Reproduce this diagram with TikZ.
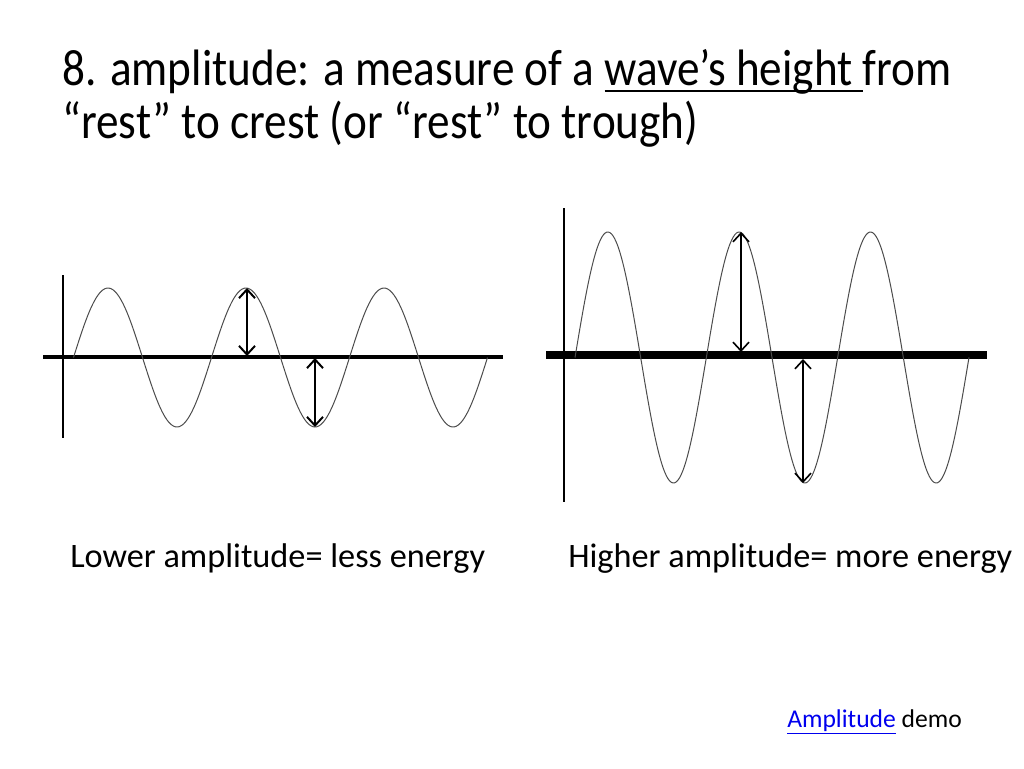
\documentclass[tikz,border=0pt]{standalone}
\usepackage{fontspec}
\setmainfont{Carlito}
\usetikzlibrary{arrows.meta}
\definecolor{linkblue}{RGB}{0,0,238}
\newcommand\waveul[1]{\setbox0\hbox{#1}\rlap{\rule[-0.14em]{\wd0}{0.045em}}\box0}
\tikzset{
  wave/.style={black!70, line width=0.75pt, smooth},
  amp/.style={{Straight Barb[length=6.5pt,width=12pt]}-{Straight Barb[length=6.5pt,width=12pt]}},
  txt/.style={anchor=base west, inner sep=0pt}
}
\begin{document}
\begin{tikzpicture}[x=0.75pt,y=-0.75pt]
\useasboundingbox (0,0) rectangle (1024,768);

% title
\node[txt] (title1) at (62,85) {\fontsize{38.4}{46}\selectfont\scalebox{0.883}[1]{8. amplitude: a measure of a \waveul{wave’s height\ }from}};
\node[txt] (title2) at (62,138) {\fontsize{38.4}{46}\selectfont\scalebox{0.883}[1]{“rest” to crest (or “rest” to trough)}};

% lower amplitude wave
\draw[line width=2.2pt] (63,275) -- (63,438);
\draw[line width=3pt] (43,356.5) -- (503,356.5);
\draw[wave,domain=73.5:487.5,samples=200,variable=\x] plot ({\x},{357.5-69.5*sin((\x-73.5)/138*360)});

\coordinate (lcrest) at (247,288);
\coordinate (lrest1) at (247,356);
\coordinate (lrest2) at (315,358);
\coordinate (ltrough) at (315,427);
\draw[amp,line width=1.5pt] (lcrest) -- (lrest1);
\draw[amp,line width=1.5pt] (lrest2) -- (ltrough);

% higher amplitude wave
\draw[line width=2.2pt] (564,208) -- (564,502);
\draw[line width=6pt] (546,355) -- (987,355);
\draw[wave,domain=575:969,samples=250,variable=\x] plot ({\x},{357.5-125.5*sin((\x-575)/131.33*360)});

\coordinate (hcrest) at (741,232);
\coordinate (hrest1) at (741,352);
\coordinate (hrest2) at (803,359);
\coordinate (htrough) at (803,483);
\draw[amp,line width=1.2pt] (hcrest) -- (hrest1);
\draw[amp,line width=1.2pt] (hrest2) -- (htrough);

% captions
\node[txt] (lower) at (70,567) {\fontsize{25.7}{30}\selectfont Lower amplitude= less energy};
\node[txt] (higher) at (568,567) {\fontsize{25.7}{30}\selectfont Higher amplitude= more energy};

\node[txt] (demo) at (787,727) {\fontsize{19.2}{23}\selectfont\textcolor{linkblue}{\underline{Amplitude}} demo};

\end{tikzpicture}
\end{document}
